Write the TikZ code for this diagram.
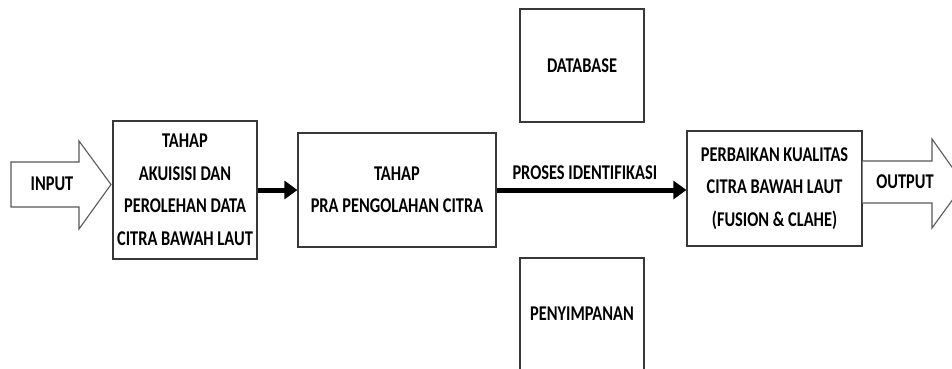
\documentclass[tikz,border=0pt]{standalone}
\usepackage{fontspec}
\setmainfont{Carlito}[FakeStretch=0.78]
\usetikzlibrary{arrows.meta}
\tikzset{
  box/.style={draw=black!78, line width=1.2pt, fill=white, align=center, inner sep=0pt},
  blockarrow/.style={draw=black!65, line width=1.1pt, fill=white},
  conn/.style={line width=5pt, -{Triangle[length=13pt,width=18pt]}},
  txt/.style={font=\fontsize{21}{32.5}\selectfont\bfseries, align=center}
}
\begin{document}
\begin{tikzpicture}[x=1pt, y=-1pt, every node/.append style={txt}]
\useasboundingbox (0,0) rectangle (952,369);
\clip (0,0) rectangle (952,369);
\fill[white] (0,0) rectangle (952,369);
% boxes
\node[box, minimum width=144pt, minimum height=138pt] (b1) at (185,190)
  {TAHAP\\AKUISISI DAN\\PEROLEHAN DATA\\CITRA BAWAH LAUT};
\node[box, minimum width=198pt, minimum height=114pt] (b2) at (397,190)
  {TAHAP\\PRA PENGOLAHAN CITRA};
\node[box, minimum width=175pt, minimum height=115pt] (b3) at (774.5,188.5)
  {PERBAIKAN KUALITAS\\CITRA BAWAH LAUT\\(FUSION \& CLAHE)};
\node[box, minimum width=124pt, minimum height=113pt] (db) at (582,65.5) {DATABASE};
\node[box, minimum width=124pt, minimum height=112pt] (pen) at (582,314) {PENYIMPANAN};
% block arrows
\draw[blockarrow] (11,162) -- (79,162) -- (79,141) -- (111,184.5) -- (79,229) -- (79,207) -- (11,207) -- cycle;
\node (in) at (52,184) {INPUT};
\draw[blockarrow] (b3.east |- 0,161) -- (932,161) -- (932,139) -- (964,184) -- (932,228) -- (932,203) -- (b3.east |- 0,203);
\node (out) at (905,182) {OUTPUT};
% connectors
\draw[conn] (b1.east) -- (b2.west);
\draw[conn] (b2.east) -- node[pos=0.465, yshift=17pt] (plab) {PROSES IDENTIFIKASI} (b3.west |- b2.east);
\end{tikzpicture}
\end{document}
